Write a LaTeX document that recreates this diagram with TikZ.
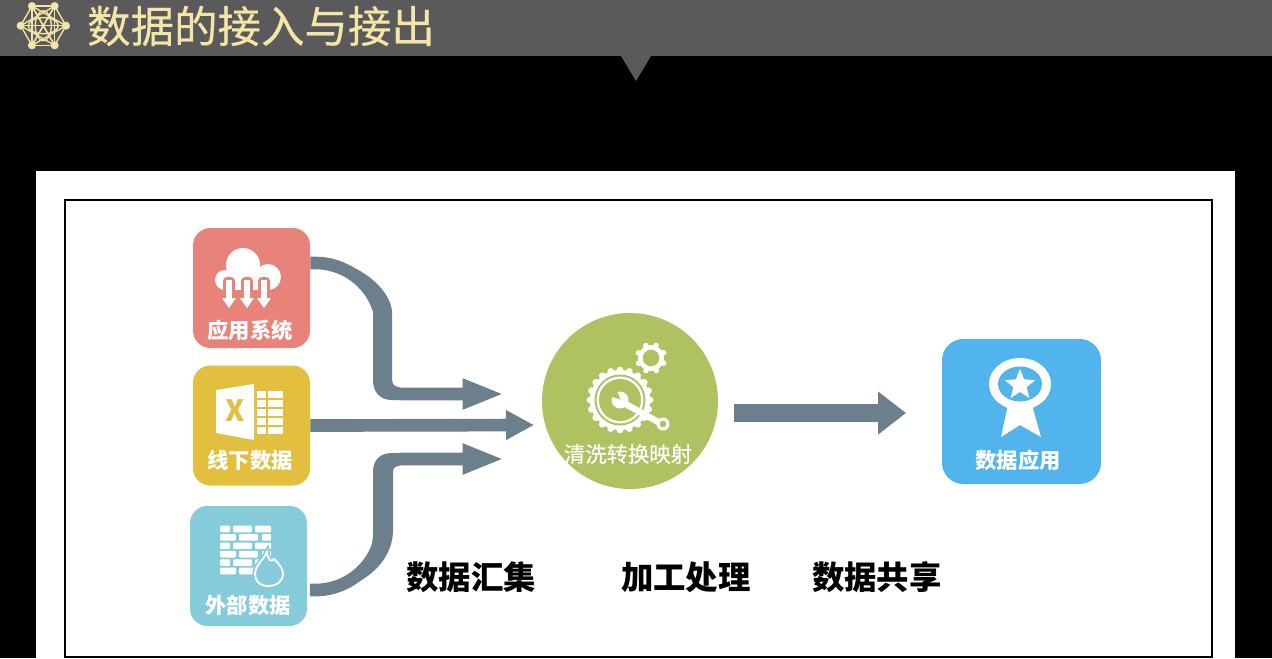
\documentclass[tikz,border=0pt]{standalone}
\usepackage{fontspec}
\setmainfont{Noto Sans CJK SC}
\newfontfamily\titlefont[FakeBold=0.4]{Noto Sans CJK SC}
\usepackage{tikz}
\usetikzlibrary{positioning, arrows.meta, shapes.geometric}
\definecolor{barcol}{HTML}{5A5A5A}
\definecolor{goldcol}{HTML}{F5E6A8}
\definecolor{flowcol}{HTML}{6B7F8C}
\definecolor{rosecol}{HTML}{E8837B}
\definecolor{mustcol}{HTML}{E2BF3F}
\definecolor{aquacol}{HTML}{86CBD9}
\definecolor{skycol}{HTML}{52B4EC}
\definecolor{leafcol}{HTML}{AEC261}

\begin{document}
\begin{tikzpicture}[
    x=0.75pt, y=-0.75pt,
    tile/.style={rounded corners=13pt, minimum width=87.75pt, minimum height=90pt, inner sep=0pt},
    tiletxt/.style={text=white, inner sep=0pt, font=\bfseries\fontsize{16}{18}\selectfont},
    steptxt/.style={text=black, inner sep=0pt, font=\bfseries\fontsize{24.3}{28}\selectfont},
    flow/.style={draw=flowcol, line width=9.5pt, -{Triangle[length=31pt, width=21pt]}},
    flowbig/.style={draw=flowcol, line width=13.5pt, -{Triangle[length=21pt, width=31pt]}},
    brick/.style={fill=white, rounded corners=0.8pt}]

  % === Page: black ground, title bar, panel ===
  \useasboundingbox (0,0) rectangle (1272,658);
  \fill[black] (0,0) rectangle (1272,658);
  \fill[barcol] (0,0) rectangle (1272,56);
  \fill[barcol] (621,56) -- (651,56) -- (636,81) -- cycle;
  \fill[white] (36,171) rectangle (1235,658);
  \draw[black, line width=1.5pt] (65,200) rectangle (1212,657);
  \node[text=goldcol, inner sep=0pt, font=\titlefont\fontsize{32.6}{36}\selectfont] (title) at (261,26) {数据的接入与接出};

  % Title emblem
  \foreach \a in {0,60,...,300} {
    \fill[goldcol] (43.3,25.7) +(\a:22.7) circle[radius=4];
    \foreach \b in {60,120,180}
      \draw[goldcol, line width=1pt] (43.3,25.7) +(\a:22.7) -- +(\a+\b:22.7);
  }
  \draw[goldcol, line width=1pt] (43.3,25.7) ellipse[x radius=15, y radius=8];
  \draw[goldcol, line width=1pt] (43.3,25.7) ellipse[x radius=8, y radius=15];

  % === Source tiles and targets ===
  \node[tile, fill=rosecol] (appsys) at (251.5,288) {};
  \node[tile, fill=mustcol, below=12.75pt of appsys] (offline) {};
  \node[tile, fill=aquacol] (extern) at (248.5,566) {};
  \node[circle, fill=leafcol, minimum size=132pt, inner sep=0pt] (hub) at (630,401) {};
  \node[tile, fill=skycol, rounded corners=16pt, minimum width=119.25pt, minimum height=108.75pt] (share) at (1021.5,411.5) {};

  % Free arrow ends
  \coordinate (intop) at (504,394);
  \coordinate (inmid) at (534,425);
  \coordinate (inlow) at (504,459);
  \coordinate (sharein) at (906,413);

  % === Arrows ===
  \draw[flow] ([yshift=18.75pt]appsys.east) [rounded corners=50pt] -- (382,263) [rounded corners=15pt] -- (382,394) -- (intop);
  \draw[flow, -{Triangle[length=21pt, width=21pt]}] (offline.east) -- (inmid);
  \draw[flow] ([xshift=2pt,yshift=-18pt]extern.east) [rounded corners=50pt] -- (382,590) [rounded corners=15pt] -- (382,459) -- (inlow);
  \draw[flowbig] ([xshift=12pt]hub.east |- sharein) -- (sharein);

  % shafts swell in the vertical run
  \fill[flowcol] (350,266) .. controls (372,275) and (392,295) .. (392,313) -- (392,378) .. controls (392,384) and (394,388) .. (400,388) -- (400,400) -- (392,400) .. controls (380,400) and (373,392) .. (373,380) -- (373,310) .. controls (373,298) and (365,290) .. (352,280) -- cycle;
  \fill[flowcol] (352,585) .. controls (375,575) and (393,555) .. (393,530) -- (393,472) .. controls (393,468) and (395,465) .. (400,465) -- (400,453) -- (392,453) .. controls (380,453) and (373,460) .. (373,472) -- (373,533) .. controls (373,550) and (365,565) .. (352,573) -- cycle;

  % === Tile captions ===
  \node[tiletxt] (appcap) at (250,330) {应用系统};
  \node[tiletxt] (offcap) at (250,460) {线下数据};
  \node[tiletxt] (extcap) at (248,605) {外部数据};
  \node[tiletxt, font=\titlefont\fontsize{16}{18}\selectfont] (hubcap) at (628,454) {清洗转换映射};
  \node[tiletxt] (sharecap) at (1018,460) {数据应用};

  % === Step captions ===
  \node[steptxt] (collect) at (471,577) {数据汇集};
  \node[steptxt, right=63.5pt of collect] (process) {加工处理};
  \node[steptxt, right=45.75pt of process] (publish) {数据共享};

  % Cloud icon
  \fill[white] (243,265) circle[radius=17] (268,277) circle[radius=13] (225,280) circle[radius=10];
  \fill[white] (225,272) rectangle (268,290);
  \foreach \x in {229,247,264} {
    \fill[rosecol, rounded corners=3pt] (\x-6,298) -- (\x-6,277) -- (\x+6,277) -- (\x+6,298) -- cycle;
    \fill[white] (\x-3,280) rectangle (\x+3,299);
    \fill[white] (\x-7,298) -- (\x+7,298) -- (\x,308) -- cycle;
  }

  % Spreadsheet icon
  \fill[white] (216,390) -- (254,384) -- (254,440) -- (216,433) -- cycle;
  \node[text=mustcol, inner sep=0pt, font=\bfseries\fontsize{22}{24}\selectfont] (xmark) at (235,411) {X};
  \foreach \y in {391,400,409,418,427} {
    \fill[white] (257,\y) rectangle (266,\y+7);
    \fill[white] (268,\y) rectangle (283,\y+7);
  }

  % Firewall icon
  \foreach \y in {525.7,542.5,559.3} {
    \fill[brick] (220,\y) rectangle (230,\y+6.6);
    \fill[brick] (233,\y) rectangle (252,\y+6.6);
    \fill[brick] (255,\y) rectangle (271,\y+6.6);
  }
  \foreach \y in {534.1,550.9,567.7} {
    \fill[brick] (220,\y) rectangle (236,\y+6.6);
    \fill[brick] (239,\y) rectangle (258,\y+6.6);
    \fill[brick] (262,\y) rectangle (271,\y+6.6);
  }
  \draw[aquacol, line width=4pt, fill=aquacol] (268,586) .. controls (258,586) and (255,579) .. (255,574) .. controls (255,566) and (262,562) .. (267,552) .. controls (268,560) and (271,563) .. (274,559) .. controls (279,564) and (283,568) .. (283,574) .. controls (283,581) and (277,586) .. (268,586) -- cycle;
  \draw[white, line width=1.4pt, fill=aquacol] (268,586) .. controls (258,586) and (255,579) .. (255,574) .. controls (255,566) and (262,562) .. (267,552) .. controls (268,560) and (271,563) .. (274,559) .. controls (279,564) and (283,568) .. (283,574) .. controls (283,581) and (277,586) .. (268,586) -- cycle;

  % Gear icons
  \fill[white] (620,400) circle[radius=30];
  \foreach \a in {0,18,...,342}
    \fill[white] (620,400) +(\a:30) circle[radius=3.4];
  \fill[leafcol] (620,400) circle[radius=25.5];
  \fill[white] (620,400) circle[radius=23.5];
  \fill[leafcol] (620,400) circle[radius=21];
  \fill[white] (651,358) circle[radius=13];
  \foreach \a in {0,45,...,315}
    \fill[white] (651,358) +(\a+22:13.5) circle[radius=2.8];
  \fill[leafcol] (651,358) circle[radius=8.3];

  % Wrench
  \draw[white, line width=4.8pt] (622,402) -- (660,423);
  \fill[white] (620,400) circle[radius=8.5];
  \fill[leafcol] (620.5,399.5) -- (616,389) -- (609,396) -- cycle;
  \fill[white] (663,424) circle[radius=6.5];
  \fill[leafcol] (663,424) circle[radius=3.3];

  % Medal icon
  \fill[white] (1008,405) -- (1032,405) -- (1041,437) -- (1020,425) -- (1001,437) -- cycle;
  \fill[white] (1020,384) ellipse[x radius=31, y radius=26];
  \fill[skycol] (1020,384) ellipse[x radius=22, y radius=17.5];
  \node[star, star points=5, star point ratio=2.3, fill=white, inner sep=0pt, minimum size=24pt] (medalstar) at (1020,385) {};

\end{tikzpicture}
\end{document}
